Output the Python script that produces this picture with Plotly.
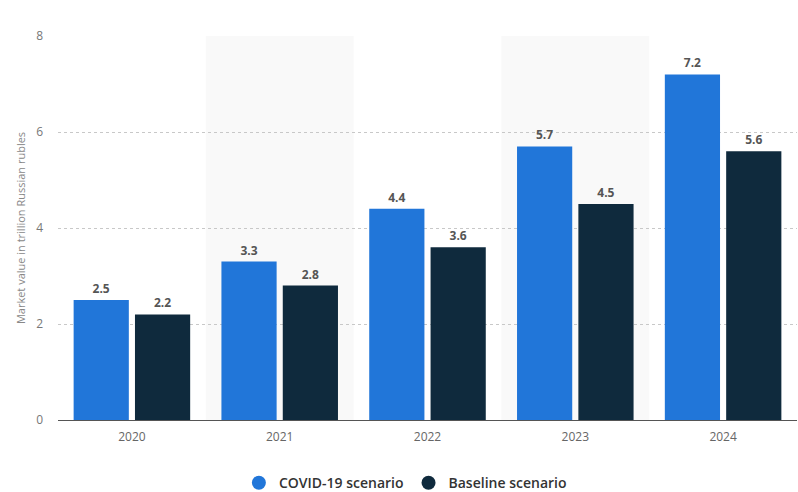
import plotly.graph_objects as go

years = ["2020", "2021", "2022", "2023", "2024"]
covid = [2.5, 3.3, 4.4, 5.7, 7.2]
baseline = [2.2, 2.8, 3.6, 4.5, 5.6]
series_names = ["COVID-19 scenario", "Baseline scenario"]
colors = ["#2176d9", "#0f2a3d"]
y_ticks = [0, 2, 4, 6, 8]

fig = go.Figure()
for name, vals, col in zip(series_names, [covid, baseline], colors):
    fig.add_trace(go.Bar(
        x=years, y=vals, name=name, marker=dict(color=col, line=dict(width=0)),
        text=[f"{v:.1f}" for v in vals], textposition="outside",
        textfont=dict(family="Open Sans, Arial, sans-serif", size=12, color="#555555",
                      weight="bold"),
        cliponaxis=False, showlegend=False,
    ))
    fig.add_trace(go.Scatter(
        x=[None], y=[None], mode="markers", name=name,
        marker=dict(symbol="circle", size=14, color=col), showlegend=True,
    ))

for i in range(len(years)):
    if i % 2 == 1:
        fig.add_shape(type="rect", xref="x", yref="paper", x0=i - 0.5, x1=i + 0.5,
                      y0=0, y1=1, fillcolor="#f9f9f9", line=dict(width=0), layer="below")

fig.update_layout(
    width=798, height=492,
    margin=dict(l=58, r=1, t=36, b=72, autoexpand=False),
    plot_bgcolor="white", paper_bgcolor="white",
    barmode="group", bargap=0.17, bargroupgap=0.1,
    font=dict(family="Open Sans, Arial, sans-serif", color="#666666"),
    legend=dict(orientation="h", x=0.508, xanchor="center", xref="container",
                y=0.018, yanchor="middle", yref="container",
                font=dict(size=14, color="#333333", weight=600), itemwidth=30,
                traceorder="normal"),
    xaxis=dict(type="category", showgrid=False, showline=True, linecolor="#555555",
               linewidth=1, ticks="", tickfont=dict(size=12, color="#666666"),
               ticklabelstandoff=6, range=[-0.5, 4.5]),
    yaxis=dict(range=[0, 8], tickvals=y_ticks, showgrid=True, gridcolor="#c8c8c8",
               griddash="dot", gridwidth=1, zeroline=False, showline=False,
               tickfont=dict(size=12, color="#777777"), ticklabelstandoff=14,
               title=dict(text="Market value in trillion Russian rubles",
                          font=dict(size=11, color="#888888"), standoff=8)),
)

fig.write_html("out.html")
